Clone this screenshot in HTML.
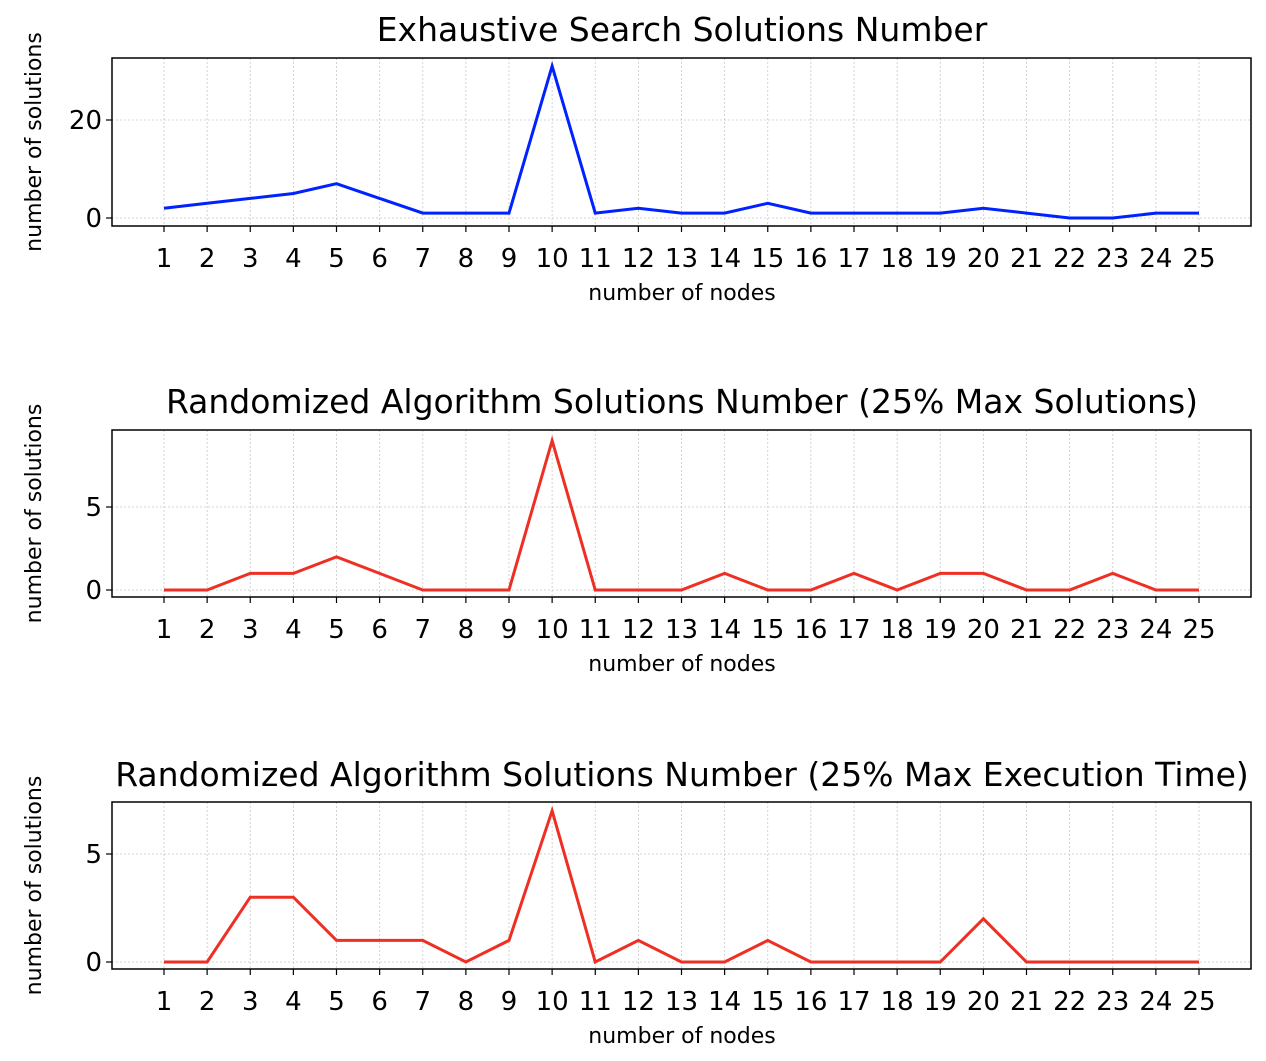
<!DOCTYPE html>
<html><head><meta charset="utf-8"><style>
body{margin:0;background:#fff}
svg text{font-family:"DejaVu Sans","Liberation Sans",sans-serif;fill:#000}
</style></head><body>
<svg id="chart" width="1266" height="1056" viewBox="0 0 1266 1056" xmlns="http://www.w3.org/2000/svg"></svg>
<script>
const categories = [1,2,3,4,5,6,7,8,9,10,11,12,13,14,15,16,17,18,19,20,21,22,23,24,25];
const exhaustiveValues = [2,3,4,5,7,4,1,1,1,31,1,2,1,1,3,1,1,1,1,2,1,0,0,1,1];
const randomizedSolValues = [0,0,1,1,2,1,0,0,0,9,0,0,0,1,0,0,1,0,1,1,0,0,1,0,0];
const randomizedTimeValues = [0,0,3,3,1,1,1,0,1,7,0,1,0,0,1,0,0,0,0,2,0,0,0,0,0];
const yTicks1 = [0,20];
const yTicks2 = [0,5];
const yTicks3 = [0,5];
const titles = ["Exhaustive Search Solutions Number","Randomized Algorithm Solutions Number (25% Max Solutions)","Randomized Algorithm Solutions Number (25% Max Execution Time)"];

const svg = document.getElementById('chart');
const NS = 'http://www.w3.org/2000/svg';
function mk(tag, attrs, parent){const e=document.createElementNS(NS,tag);for(const k in attrs)e.setAttribute(k,attrs[k]);(parent||svg).appendChild(e);return e;}

const panels = [
 {vals:exhaustiveValues, ticks:yTicks1, top:58, bottom:226, y0:218, yRef:20, yRefPix:120, color:'#0022ff', title:titles[0], titleY:41, name:'exhaustive'},
 {vals:randomizedSolValues, ticks:yTicks2, top:430, bottom:597, y0:590, yRef:5, yRefPix:507, color:'#ee3024', title:titles[1], titleY:413, name:'randomized-solutions'},
 {vals:randomizedTimeValues, ticks:yTicks3, top:802, bottom:969, y0:962, yRef:5, yRefPix:854, color:'#ee3024', title:titles[2], titleY:786, name:'randomized-time'}
];
const left=112, right=1251;
const xScale = c => 164 + (c-1)*(1199-164)/24;

panels.forEach(p=>{
  const yScale = v => p.y0 + (p.yRefPix - p.y0)*v/p.yRef;
  const g = mk('g',{});
  
  
  categories.forEach(c=>{
    const l=mk('line',{x1:xScale(c),x2:xScale(c),y1:p.top,y2:p.bottom,stroke:'#c8c8c8','stroke-width':0.8,'stroke-dasharray':'2,2'},g);
    
    
  });
  p.ticks.forEach(t=>{
    const l=mk('line',{x1:left,x2:right,y1:yScale(t),y2:yScale(t),stroke:'#c8c8c8','stroke-width':0.8,'stroke-dasharray':'2,2'},g);
    
    
  });
  const pts = p.vals.map((v,i)=>xScale(categories[i])+','+yScale(v)).join(' ');
  const pl = mk('polyline',{points:pts,fill:'none',stroke:p.color,'stroke-width':3,'stroke-linejoin':'miter'},g);
  
  
  const fr = mk('rect',{x:left,y:p.top,width:right-left,height:p.bottom-p.top,fill:'none',stroke:'#000','stroke-width':1.5},g);
  
  
  categories.forEach(c=>{
    const tk=mk('line',{x1:xScale(c),x2:xScale(c),y1:p.bottom,y2:p.bottom+6,stroke:'#000','stroke-width':1.2},g);
    
    
    const t=mk('text',{x:xScale(c),y:p.bottom+41,'text-anchor':'middle','font-size':'26'},g);
    t.textContent=c;
    
    
  });
  p.ticks.forEach(v=>{
    const tk=mk('line',{x1:left-6,x2:left,y1:yScale(v),y2:yScale(v),stroke:'#000','stroke-width':1.2},g);
    
    
    const t=mk('text',{x:left-10,y:yScale(v)+9,'text-anchor':'end','font-size':'26'},g);
    t.textContent=v;
    
    
  });
  const tt=mk('text',{x:682,y:p.titleY,'text-anchor':'middle','font-size':'33'},g);
  tt.textContent=p.title;
  
  
  const xl=mk('text',{x:682,y:p.bottom+74,'text-anchor':'middle','font-size':'22'},g);
  xl.textContent='number of nodes';
  
  
  const cy=(p.top+p.bottom)/2;
  const yl=mk('text',{x:41,y:cy,'text-anchor':'middle','font-size':'22',transform:`rotate(-90 41 ${cy})`},g);
  yl.textContent='number of solutions';
  
  
});
</script>
</body></html>
